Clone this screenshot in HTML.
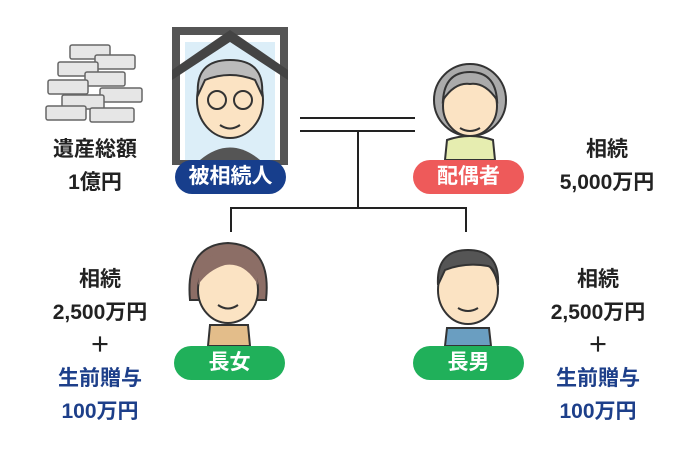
<!DOCTYPE html><html><head><meta charset="utf-8"><style>
body{margin:0;width:700px;height:460px;background:#fff;position:relative;overflow:hidden;font-family:"Liberation Sans","Noto Sans CJK JP",sans-serif}
.t{position:absolute;font-weight:bold;font-size:21px;line-height:33px;text-align:center;color:#222;width:160px}
.b{color:#1d3f8a}
.pill{position:absolute;width:111px;height:34px;border-radius:17px;color:#fff;font-weight:bold;font-size:21px;line-height:34px;text-align:center}
.ln{position:absolute;background:#222}
</style></head><body>
<svg width="700" height="460" style="position:absolute;left:0;top:0">
<!-- money -->
<g fill="#e6e6e6" stroke="#666" stroke-width="1.5">
<rect x="70" y="45" width="40" height="14" rx="2"/><rect x="95" y="55" width="40" height="14" rx="2"/>
<rect x="58" y="62" width="40" height="14" rx="2"/><rect x="85" y="72" width="40" height="14" rx="2"/>
<rect x="48" y="80" width="40" height="14" rx="2"/><rect x="100" y="88" width="42" height="14" rx="2"/>
<rect x="62" y="95" width="42" height="14" rx="2"/><rect x="46" y="106" width="40" height="14" rx="2"/><rect x="90" y="108" width="44" height="14" rx="2"/>
</g>
<!-- frame -->
<rect x="172" y="27" width="116" height="138" fill="#555"/>
<rect x="180" y="35" width="100" height="125" fill="#fff"/>
<rect x="185" y="42" width="90" height="118" fill="#dceef8"/>
<path d="M172 70 L230 30 L288 70 L288 80 L230 42 L172 80Z" fill="#444"/>
<path d="M200 160 Q230 135 260 160Z" fill="#555"/>
<ellipse cx="230" cy="100" rx="33" ry="38" fill="#fbe3c3" stroke="#333" stroke-width="2"/>
<path d="M198 95 Q195 60 230 60 Q265 60 262 95 L255 80 Q230 70 205 80Z" fill="#bbb" stroke="#333" stroke-width="2"/>
<circle cx="217" cy="100" r="9" fill="none" stroke="#333" stroke-width="2"/><circle cx="243" cy="100" r="9" fill="none" stroke="#333" stroke-width="2"/>
<path d="M220 125 Q230 132 240 125" fill="none" stroke="#333" stroke-width="2"/>
<!-- spouse -->
<ellipse cx="470" cy="100" rx="36" ry="36" fill="#aaa" stroke="#333" stroke-width="2"/>
<path d="M445 160 L447 140 Q470 132 493 140 L495 160Z" fill="#e6edb0" stroke="#333" stroke-width="2"/>
<ellipse cx="470" cy="106" rx="27" ry="30" fill="#fbe3c3" stroke="#333" stroke-width="2"/>
<path d="M443 100 Q445 72 470 72 Q495 72 497 100 Q485 82 470 84 Q455 82 443 100Z" fill="#aaa" stroke="#333" stroke-width="2"/>
<path d="M460 128 Q470 134 480 128" fill="none" stroke="#333" stroke-width="2"/>
<!-- daughter -->
<path d="M190 300 Q185 245 228 243 Q272 245 266 300Z" fill="#8c6e66" stroke="#333" stroke-width="2"/>
<path d="M208 346 L210 325 L248 325 L250 346Z" fill="#e3bd8a" stroke="#333" stroke-width="2"/>
<ellipse cx="228" cy="290" rx="30" ry="33" fill="#fbe3c3" stroke="#333" stroke-width="2"/>
<path d="M198 285 Q200 252 228 252 Q256 252 258 285 Q245 262 225 265 Q208 270 198 285Z" fill="#8c6e66"/>
<path d="M218 305 Q228 312 238 305" fill="none" stroke="#333" stroke-width="2"/>
<!-- son -->
<path d="M445 346 L447 328 L489 328 L491 346Z" fill="#6a9ec1" stroke="#333" stroke-width="2"/>
<ellipse cx="468" cy="290" rx="30" ry="34" fill="#fbe3c3" stroke="#333" stroke-width="2"/>
<path d="M438 285 Q436 250 468 250 Q500 250 498 285 Q495 268 488 266 Q465 262 445 270Z" fill="#555" stroke="#333" stroke-width="2"/>
<path d="M458 308 Q468 314 478 308" fill="none" stroke="#333" stroke-width="2"/>
</svg>
<div class="ln" style="left:300px;top:117px;width:115px;height:2px"></div>
<div class="ln" style="left:300px;top:130px;width:115px;height:2px"></div>
<div class="ln" style="left:357px;top:130px;width:2px;height:78px"></div>
<div class="ln" style="left:230px;top:207px;width:237px;height:2px"></div>
<div class="ln" style="left:230px;top:207px;width:2px;height:25px"></div>
<div class="ln" style="left:465px;top:207px;width:2px;height:25px"></div>
<div class="pill" style="left:175px;top:160px;background:#173e8c">被相続人</div>
<div class="pill" style="left:413px;top:160px;background:#ee5a5a">配偶者</div>
<div class="pill" style="left:174px;top:346px;background:#20b05a">長女</div>
<div class="pill" style="left:413px;top:346px;background:#20b05a">長男</div>
<div class="t" style="left:15px;top:133px">遺産総額<br>1億円</div>
<div class="t" style="left:527px;top:133px">相続<br>5,000万円</div>
<div class="t" style="left:20px;top:263px">相続<br>2,500万円<br>＋<br><span class="b">生前贈与<br>100万円</span></div>
<div class="t" style="left:518px;top:263px">相続<br>2,500万円<br>＋<br><span class="b">生前贈与<br>100万円</span></div>
</body></html>
